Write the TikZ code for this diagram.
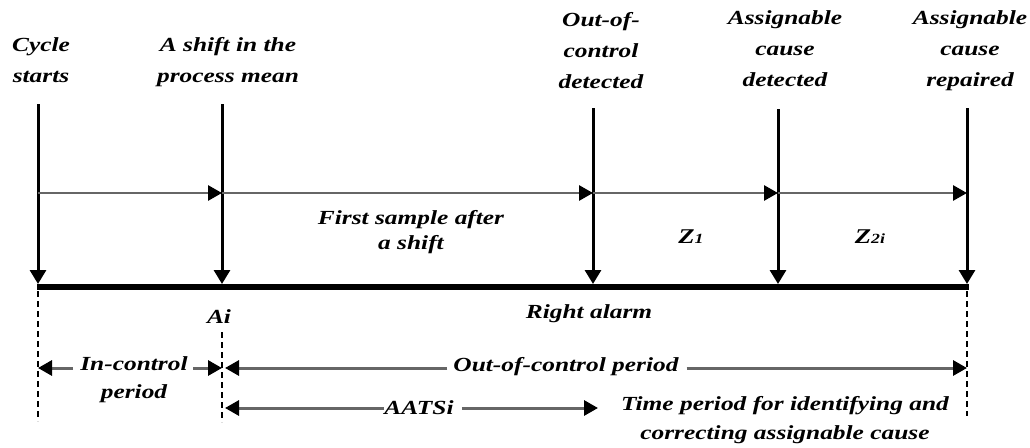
\documentclass[tikz,border=0pt]{standalone}
\usepackage{fontspec}
\setmainfont[FakeStretch=1.27]{Liberation Serif}
\usetikzlibrary{arrows.meta}
\tikzset{
  lbl/.style={font=\fontsize{20}{31}\selectfont\bfseries\itshape, align=center, inner sep=0pt},
  vline/.style={line width=3pt, -{Triangle[length=14pt,width=16pt]}},
  hline/.style={line width=2.8pt, draw=black!60, -{Triangle[length=14pt,width=15pt,color=black]}},
  base/.style={line width=5.5pt},
  dline/.style={line width=2.4pt, dash pattern=on 6pt off 4pt},
  parrow/.style={line width=3pt, draw=black!60, -{Triangle[length=14pt,width=15pt,color=black]}},
}
\newcommand{\smallsub}[1]{{\fontsize{14}{14}\selectfont #1}}
\begin{document}
\begin{tikzpicture}[x=1pt,y=-1pt]
\useasboundingbox (0,0) rectangle (1030,447);
% coordinates
\foreach \i/\x/\t in {1/38/104, 2/222/104, 3/593/108, 4/778/109, 5/967/108} {
  \coordinate (t\i) at (\x,\t);
  \coordinate (m\i) at (\x,193);
  \coordinate (b\i) at (\x,284);
  \coordinate (g\i) at (\x,287);
}
% top labels (anchor = baseline of last line)
\node[lbl, anchor=base] (L1) at (41,82) {Cycle\\starts};
\node[lbl, anchor=base] (L2) at (228,82) {A shift in the\\process mean};
\node[lbl, anchor=base] (L3) at (601,88) {Out-of-\\control\\detected};
\node[lbl, anchor=base] (L4) at (785,86) {Assignable\\cause\\detected};
\node[lbl, anchor=base] (L5) at (970,86) {Assignable\\cause\\repaired};
% verticals
\foreach \i in {1,...,5} \draw[vline] (t\i) -- (b\i);
% horizontal sample arrows
\draw[hline] (m1) -- (m2);
\draw[hline] (m2) -- (m3);
\draw[hline] (m3) -- (m4);
\draw[hline] (m4) -- (m5);
% baseline
\draw[base] ([xshift=-1pt]g1) -- ([xshift=1.5pt]g5);
% middle labels
\node[lbl, anchor=base, font=\fontsize{20}{25}\selectfont\bfseries\itshape] (fs) at (411,249) {First sample after\\a shift};
\node[lbl, anchor=base, font=\fontsize{21}{25}\selectfont\bfseries\itshape] (z1) at (691,243) {Z\smallsub{1}};
\node[lbl, anchor=base, font=\fontsize{21}{25}\selectfont\bfseries\itshape] (z2) at (870,243) {Z\smallsub{2i}};
% below
\node[lbl, anchor=base] (ai) at (219,323) {Ai};
\node[lbl, anchor=base] (ra) at (589,318) {Right alarm};
\coordinate (d1a) at (38,291); \coordinate (d1b) at (38,421);
\coordinate (d2a) at (222,332); \coordinate (d2b) at (222,422);
\coordinate (d5a) at (967,291); \coordinate (d5b) at (967,416);
\draw[dline] (d1a) -- (d1b);
\draw[dline] (d2a) -- (d2b);
\draw[dline] (d5a) -- (d5b);
% in-control
\node[lbl, anchor=base, font=\fontsize{20}{28}\selectfont\bfseries\itshape] (ic) at (134,398) {In-control\\period};
\coordinate (p1) at (38,368);
\coordinate (p2) at (222,368);
\coordinate (p2r) at (225,368);
\coordinate (p5) at (967,368);
\coordinate (p1s) at (73,368);
\coordinate (p2s) at (193,368);
\draw[parrow] (p1s) -- (p1);
\draw[parrow] (p2s) -- (p2);
\node[lbl, anchor=base] (oc) at (566,371) {Out-of-control period};
\draw[parrow] ([xshift=-6pt]oc.west |- p2r) -- (p2r);
\draw[parrow] ([xshift=8pt]oc.east |- p5) -- (p5);
% AATSi
\node[lbl, anchor=base] (aa) at (419,414) {AATSi};
\coordinate (q2) at (225,408);
\coordinate (q3) at (598,408);
\draw[parrow] (aa.west |- q2) -- (q2);
\draw[parrow] ([xshift=8pt]aa.east |- q3) -- (q3);
\node[lbl, anchor=base, font=\fontsize{20}{29}\selectfont\bfseries\itshape] (tp) at (785,439) {Time period for identifying and\\correcting assignable cause};
\end{tikzpicture}
\end{document}
